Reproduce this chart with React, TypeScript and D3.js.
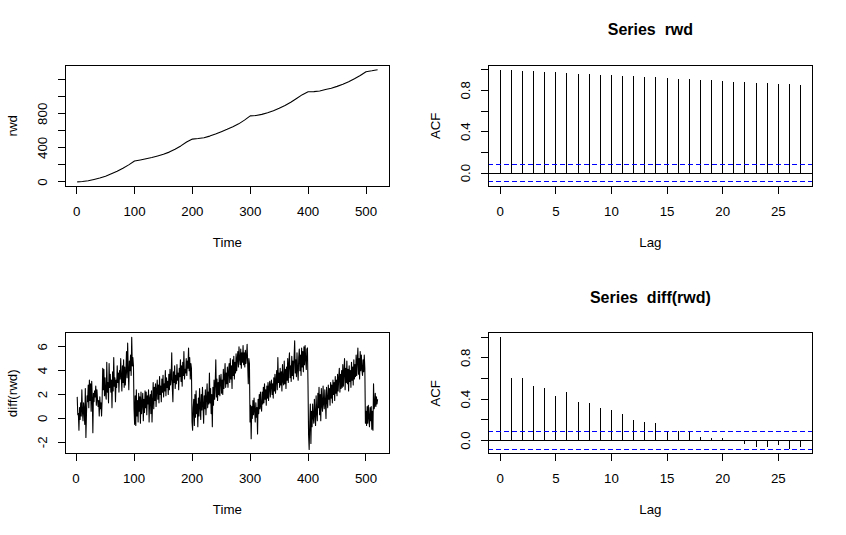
import React from "react";
import * as d3 from "d3";

// ---- data ----
const rwdTimes = [1, 10, 20, 30, 40, 50, 60, 70, 80, 90, 100, 110, 120, 130, 140, 150, 160, 170, 180, 190, 200, 210, 220, 230, 240, 250, 260, 270, 280, 290, 300, 310, 320, 330, 340, 350, 360, 370, 380, 390, 400, 410, 420, 430, 440, 450, 460, 470, 480, 490, 500, 510, 520];
const rwdValues = [0, 5, 13, 29, 45, 66, 95, 125, 160, 200, 245, 258, 272, 287, 305, 324, 350, 384, 423, 468, 503, 509, 518, 538, 563, 590, 618, 648, 682, 726, 775, 780, 793, 812, 836, 865, 898, 936, 980, 1025, 1058, 1060, 1068, 1085, 1100, 1122, 1148, 1176, 1212, 1250, 1294, 1305, 1318];

const diffStart = 2;
const diffValues = [
  1.8, 0.3, 0.4, -1.0, 0.9, -0.1, 1.3, 0.2, 2.4, 0.6,
  -0.2, 1.3, 0.7, -0.5, 2.5, -1.6, 0.4, 1.9, 1.4, 2.8,
  0.9, 3.2, 1.5, 2.9, 0.6, 3.1, 1.7, -1.2, 2.1, 1.4,
  2.3, 1.8, 2.7, 1.1, 2.4, 1.6, 1.0, 1.5, 0.2, 1.8,
  0.8, 1.3, 0.2, 1.6, 4.2, 2.4, 4.1, 1.9, 3.4, 2.0,
  1.6, 4.7, 2.2, 3.0, 1.3, 4.6, 2.6, 3.7, 2.2, 3.2,
  0.9, 3.9, 2.3, 5.1, 2.7, 3.4, 1.4, 3.2, 2.6, 4.4,
  3.0, 3.8, 2.2, 4.0, 3.3, 5.0, 3.5, 2.3, 4.4, 3.0,
  4.9, 2.6, 4.3, 2.8, 3.9, 5.6, 3.4, 6.3, 4.1, 2.4,
  4.8, 4.0, 5.3, 3.6, 6.8, 4.4, 5.1, 4.4,
  0.8, -0.5, 1.9, -0.6, 2.4, 0.2, 1.5, -0.3, 2.1, 0.6,
  1.8, -0.4, 2.2, 0.4, 1.3, 2.1, -0.2, 1.6, 0.5, 2.3,
  0.9, 2.2, 0.3, 1.9, 1.2, 2.4, -0.3, 1.7, 2.0, 0.4,
  2.3, -0.3, 1.4, 3.0, 0.8, 2.6, 1.5, 2.9, 1.0, 2.4,
  3.2, 1.6, 2.8, 1.3, 3.5, 2.0, 2.7, 1.4, 3.3, 2.2,
  3.6, 1.8, 2.9, 2.3, 4.0, 1.9, 3.4, 2.6, 3.1, 2.0,
  3.7, 2.4, 4.1, 2.8, 3.3, 5.5, 2.6, 1.4, 3.9, 3.0,
  4.4, 2.5, 3.6, 2.9, 4.5, 3.2, 3.8, 2.4, 4.2, 3.5,
  4.9, 3.1, 4.4, 2.7, 4.7, 3.6, 5.6, 3.3, 4.1, 3.8,
  5.0, 3.6, 4.8, 4.2, 5.9, 4.0, 5.1, 3.3, 4.6, 4.2,
  -0.3, -1.0, 0.9, 1.6, -0.6, 2.0, 0.1, 2.3, 0.4, 1.2,
  -0.7, 1.7, 0.2, 2.5, 1.0, -0.1, 2.0, 0.7, 2.6, 1.1,
  -0.4, 1.9, 0.8, 2.4, 0.3, 1.7, 2.9, 0.9, 2.2, 1.2,
  3.8, 1.3, 2.5, 0.4, 2.0, -0.7, 2.6, 1.1, 3.2, 1.6,
  2.9, 4.9, 1.8, 3.3, 1.5, 3.0, 2.0, 3.6, 1.9, 3.1,
  3.7, 2.1, 3.2, 2.0, 4.1, 2.5, 3.5, 4.6, 2.6, 3.8,
  2.9, 4.3, 2.6, 3.9, 4.6, 3.0, 5.0, 3.3, 4.4, 2.5,
  4.9, 3.6, 5.2, 3.3, 4.7, 3.8, 5.4, 4.0, 5.0, 5.6,
  4.3, 6.0, 5.0, 4.5, 5.8, 4.2, 5.5, 4.7, 6.1, 4.5,
  5.5, 4.3, 5.7, 4.6, 5.2, 6.2, 4.5, 2.9, 5.0, 4.6,
  -0.3, 1.1, -1.7, 1.0, 0.0, 1.5, 0.3, 1.7, 0.6, -0.3,
  1.3, 0.1, 0.9, -1.3, 1.6, 0.4, 2.0, 0.8, 2.2, 1.0,
  0.6, 2.2, 1.2, 2.6, 1.3, 2.9, 1.6, 2.4, 1.1, 2.7,
  1.7, 3.0, 1.5, 2.6, 3.1, 1.8, 2.8, 3.2, 2.0, 2.9,
  1.7, 3.4, 2.3, 3.7, 2.1, 3.2, 4.0, 2.4, 5.1, 3.0,
  3.8, 2.6, 4.2, 2.8, 3.9, 2.3, 4.5, 3.1, 2.8, 4.8,
  2.9, 4.1, 2.5, 4.3, 3.2, 5.0, 3.0, 4.6, 5.5, 3.4,
  4.4, 3.1, 5.2, 3.6, 4.8, 3.3, 5.1, 6.5, 3.8, 4.9,
  3.5, 5.5, 4.1, 3.2, 5.1, 5.8, 4.0, 5.3, 3.6, 5.9,
  4.3, 5.6, 3.9, 6.0, 4.5, 6.1, 4.9, 4.1, 5.8, 5.9,
  2.8, -1.4, -2.6, -0.5, 1.2, -2.1, 0.6, -0.7, 1.2, 0.1,
  -0.4, 1.6, 0.3, -0.6, 1.9, 0.5, -0.2, 2.1, 0.9, 2.6,
  0.3, 2.0, -0.2, 2.5, 1.1, 0.6, 2.7, 1.2, 0.8, 2.4,
  1.4, 0.0, 2.6, 1.5, 0.9, 2.8, 1.6, 2.5, 1.1, 3.0,
  1.7, 2.8, 1.3, 3.2, 2.0, 3.0, 1.5, 3.5, 2.1, 3.2,
  1.9, 3.7, 2.3, 3.4, 4.2, 2.2, 3.7, 2.5, 4.0, 2.6,
  4.5, 2.7, 3.9, 5.0, 2.4, 4.2, 3.0, 4.8, 2.9, 4.1,
  2.3, 4.4, 3.1, 4.0, 2.6, 4.7, 3.2, 4.3, 2.8, 4.9,
  3.3, 4.5, 3.5, 5.3, 3.6, 4.8, 5.9, 3.7, 5.0, 3.3,
  5.6, 4.0, 5.3, 4.1, 3.6, 4.9, 3.9, 5.3, 4.2, -0.4,
  0.6, -0.6, 1.0, -0.4, 1.1, 0.1, -0.7, 0.9, -0.2, 1.0,
  -0.9, 0.6, -1.0, 2.9, 0.8, 1.1, 2.1, 1.0, 1.8, 1.2, 1.6,
];

const lags = d3.range(0, 28);
const acfRwd = [1.0, 0.995, 0.99, 0.985, 0.979, 0.975, 0.968, 0.963, 0.957, 0.952, 0.947, 0.941, 0.936, 0.93, 0.925, 0.919, 0.913, 0.908, 0.902, 0.897, 0.891, 0.885, 0.88, 0.874, 0.869, 0.863, 0.857, 0.852];
const acfDiff = [1.0, 0.603, 0.601, 0.526, 0.506, 0.429, 0.468, 0.371, 0.361, 0.313, 0.294, 0.255, 0.197, 0.177, 0.168, 0.09, 0.09, 0.088, 0.032, 0.023, 0.023, 0.004, -0.029, -0.064, -0.064, -0.045, -0.084, -0.064];
const climRwd = 0.086;
const climDiff = 0.086;

const timeTicks = [0, 100, 200, 300, 400, 500];
const rwdTicks = [0, 200, 400, 600, 800, 1000, 1200];
const rwdTickLabels = ["0", "", "400", "", "800", "", ""];
const diffTicks = [-2, 0, 2, 4, 6];
const lagTicks = [0, 5, 10, 15, 20, 25];
const acfTicks = [0, 0.2, 0.4, 0.6, 0.8, 1.0];
const acfTickLabels = ["0.0", "", "0.4", "", "0.8", ""];

// ---- layout ----
const W = 846;
const H = 535;
const LINE = 15.9;
const FONT = "'Liberation Sans', Arial, Helvetica, sans-serif";
const FS = 13.3;

function pad(ext: [number, number]): [number, number] {
  const r = ext[1] - ext[0];
  return [ext[0] - 0.04 * r, ext[1] + 0.04 * r];
}

type Box = { x0: number; x1: number; y0: number; y1: number };

function boxFor(col: number, row: number): Box {
  const fw = W / 2;
  const fh = H / 2;
  return {
    x0: col * fw + 4.1 * LINE,
    x1: (col + 1) * fw - 2.1 * LINE,
    y0: row * fh + 4.1 * LINE,
    y1: (row + 1) * fh - 5.1 * LINE,
  };
}

function Frame({
  box,
  x,
  y,
  xTicks,
  yTicks,
  yLabels,
  xTitle,
  yTitle,
  main,
  children,
}: {
  box: Box;
  x: d3.ScaleLinear<number, number>;
  y: d3.ScaleLinear<number, number>;
  xTicks: number[];
  yTicks: number[];
  yLabels: string[];
  xTitle: string;
  yTitle: string;
  main?: string;
  children: React.ReactNode;
}) {
  const tl = 7.5;
  const cx = (box.x0 + box.x1) / 2;
  const cy = (box.y0 + box.y1) / 2;
  const cid = `clip-${Math.round(box.x0)}-${Math.round(box.y0)}`;
  return (
    <g fontFamily={FONT} fontSize={FS} fill="#000">
      <defs>
        <clipPath id={cid}>
          <rect x={box.x0} y={box.y0} width={box.x1 - box.x0} height={box.y1 - box.y0} />
        </clipPath>
      </defs>
      <g clipPath={`url(#${cid})`}>{children}</g>
      <rect
        x={box.x0}
        y={box.y0}
        width={box.x1 - box.x0}
        height={box.y1 - box.y0}
        fill="none"
        stroke="#000"
        strokeWidth={1}
        shapeRendering="crispEdges"
      />
      <line x1={x(xTicks[0])} x2={x(xTicks[xTicks.length - 1])} y1={box.y1} y2={box.y1} stroke="#000" shapeRendering="crispEdges" />
      {xTicks.map((t) => (
        <g key={"xt" + t}>
          <line x1={x(t)} x2={x(t)} y1={box.y1} y2={box.y1 + tl} stroke="#000" shapeRendering="crispEdges" />
          <text x={x(t)} y={box.y1 + 29.5} textAnchor="middle">
            {String(t)}
          </text>
        </g>
      ))}
      <line x1={box.x0} x2={box.x0} y1={y(yTicks[0])} y2={y(yTicks[yTicks.length - 1])} stroke="#000" shapeRendering="crispEdges" />
      {yTicks.map((t, i) => (
        <g key={"yt" + t}>
          <line x1={box.x0 - tl} x2={box.x0} y1={y(t)} y2={y(t)} stroke="#000" shapeRendering="crispEdges" />
          {yLabels[i] ? (
            <text x={box.x0 - 18} y={y(t)} textAnchor="middle" transform={`rotate(-90 ${box.x0 - 18} ${y(t)})`}>
              {yLabels[i]}
            </text>
          ) : null}
        </g>
      ))}
      <text x={cx} y={box.y1 + 60.5} textAnchor="middle">
        {xTitle}
      </text>
      <text x={box.x0 - 48} y={cy} textAnchor="middle" transform={`rotate(-90 ${box.x0 - 48} ${cy})`}>
        {yTitle}
      </text>
      {main ? (
        <text x={cx} y={box.y0 - 30} textAnchor="middle" fontWeight="bold" fontSize={16} style={{ whiteSpace: "pre" }}>
          {main}
        </text>
      ) : null}
    </g>
  );
}

function TsPanel({
  box,
  times,
  values,
  yTicks,
  yLabels,
  yTitle,
}: {
  box: Box;
  times: number[];
  values: number[];
  yTicks: number[];
  yLabels: string[];
  yTitle: string;
}) {
  const x = d3.scaleLinear().domain(pad(d3.extent(times) as [number, number])).range([box.x0, box.x1]);
  const y = d3.scaleLinear().domain(pad(d3.extent(values) as [number, number])).range([box.y1, box.y0]);
  const line = d3
    .line<number>()
    .x((_, i) => x(times[i]))
    .y((v) => y(v));
  return (
    <Frame box={box} x={x} y={y} xTicks={timeTicks} yTicks={yTicks} yLabels={yLabels} xTitle="Time" yTitle={yTitle}>
      <path d={line(values) || ""} fill="none" stroke="#000" strokeWidth={1.1} strokeLinejoin="round" />
    </Frame>
  );
}

function AcfPanel({ box, acf, clim, main }: { box: Box; acf: number[]; clim: number; main: string }) {
  const x = d3.scaleLinear().domain(pad(d3.extent(lags) as [number, number])).range([box.x0, box.x1]);
  const lo = Math.min(-clim, d3.min(acf) as number);
  const hi = Math.max(clim, d3.max(acf) as number, 1);
  const y = d3.scaleLinear().domain(pad([lo, hi])).range([box.y1, box.y0]);
  return (
    <Frame box={box} x={x} y={y} xTicks={lagTicks} yTicks={acfTicks} yLabels={acfTickLabels} xTitle="Lag" yTitle="ACF" main={main}>
      <line x1={box.x0} x2={box.x1} y1={y(0)} y2={y(0)} stroke="#000" shapeRendering="crispEdges" />
      {acf.map((v, i) => (
        <line key={i} x1={x(lags[i])} x2={x(lags[i])} y1={y(0)} y2={y(v)} stroke="#000" shapeRendering="crispEdges" />
      ))}
      {[clim, -clim].map((c) => (
        <line key={c} x1={box.x0} x2={box.x1} y1={y(c)} y2={y(c)} stroke="#0000FF" strokeDasharray="5,3" shapeRendering="crispEdges" />
      ))}
    </Frame>
  );
}

export default function App() {
  const diffTimes = diffValues.map((_, i) => diffStart + i);
  return (
    <svg width={W} height={H} viewBox={`0 0 ${W} ${H}`} style={{ position: "absolute", left: 0, top: 0, background: "#fff" }}>
      <rect x={0} y={0} width={W} height={H} fill="#fff" />
      <TsPanel box={boxFor(0, 0)} times={rwdTimes} values={rwdValues} yTicks={rwdTicks} yLabels={rwdTickLabels} yTitle="rwd" />
      <AcfPanel box={boxFor(1, 0)} acf={acfRwd} clim={climRwd} main={"Series  rwd"} />
      <TsPanel box={boxFor(0, 1)} times={diffTimes} values={diffValues} yTicks={diffTicks} yLabels={diffTicks.map(String)} yTitle="diff(rwd)" />
      <AcfPanel box={boxFor(1, 1)} acf={acfDiff} clim={climDiff} main={"Series  diff(rwd)"} />
    </svg>
  );
}
